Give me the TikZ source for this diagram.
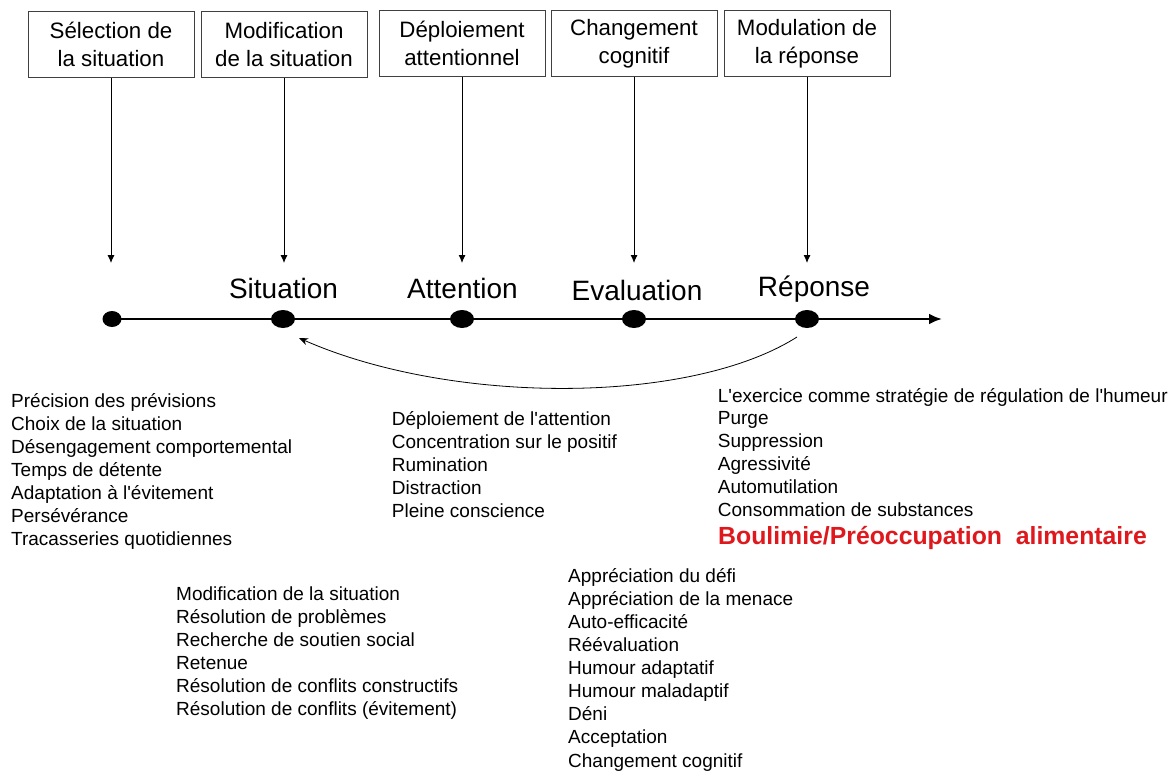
\documentclass[tikz,border=0pt]{standalone}
\usepackage{fontspec}
\setmainfont{Liberation Sans}[Ligatures=TeXOff]
\usetikzlibrary{calc,arrows.meta,shapes.geometric,positioning}
\definecolor{cadre}{RGB}{64,64,64}
\definecolor{alerte}{RGB}{222,24,28}
\newcommand*\fsz[2]{\fontsize{#1}{#2}\selectfont}

\begin{document}
\begin{tikzpicture}[x=1pt,y=-1pt,>=Latex,
  etape/.style={draw=cadre,line width=1pt,minimum width=166pt,minimum height=66pt,inner sep=0pt,align=center,font={\fsz{22.3}{27.7}}},
  point/.style={ellipse,fill=black,inner sep=0pt,minimum width=24pt,minimum height=18pt},
  phase/.style={anchor=base,inner sep=0pt,font={\fsz{28}{30}}},
  liste/.style={anchor=base west,align=left,inner sep=0pt,font={\fsz{19}{23.1}}},
  descente/.style={->,line width=0.9pt,>={Latex[length=8pt,width=7pt]}}]
\useasboundingbox (0,0) rectangle (1170,771);

% strategies (top boxes)
\node[etape] (sel) at (111,44.5) {Sélection de\\la situation};
\node[etape] (mod) at (284,44.5) {Modification\\de la situation};
\node[etape] (dep) at (462,43.7) {Déploiement\\attentionnel};
\node[etape] (chg) at (634,43.7) {Changement\\cognitif};
\node[etape] (rep) at (807,43.7) {Modulation de\\la réponse};

% timeline
\node[point,minimum width=19pt,minimum height=16pt] (d1) at (112,319) {};
\node[point] (d2) at (283,319) {};
\node[point] (d3) at (462,319) {};
\node[point] (d4) at (634,319) {};
\node[point] (d5) at (807,319) {};
\coordinate (fin) at (942,319);
\draw[line width=2.6pt,-{Latex[length=13pt,width=11pt]}] (d1.center) -- (fin);

\node[phase] (lsit) at (283.5,298) {Situation};
\node[phase] (latt) at (462.5,298) {Attention};
\node[phase] (leva) at (637,300) {Evaluation};
\node[phase] (lrep) at (814,296) {Réponse};

\draw[descente] (sel.south) -- ($(sel.south |- d1.center)+(0,-56)$);
\draw[descente] (mod.south) -- ($(mod.south |- d2.center)+(0,-56)$);
\draw[descente] (dep.south) -- ($(dep.south |- d3.center)+(0,-56)$);
\draw[descente] (chg.south) -- ($(chg.south |- d4.center)+(0,-56)$);
\draw[descente] (rep.south) -- ($(rep.south |- d5.center)+(0,-56)$);

% feedback
\draw[line width=0.8pt,->,>={Stealth[length=9pt,width=7pt]}] ($(d5.center)+(-10,18)$) .. controls ($(d5.center)+(-117,86)$) and ($(d2.center)+(168,86)$) .. ($(d2.center)+(16,19)$);

% lists (anchored on their last baseline)
\node[liste] (lsel) at (11,545.6) {Précision des prévisions\\Choix de la situation\\Désengagement comportemental\\Temps de détente\\Adaptation à l'évitement\\Persévérance\\Tracasseries quotidiennes};
\node[liste] (lmod) at (176,715.5) {Modification de la situation\\Résolution de problèmes\\Recherche de soutien social\\Retenue\\Résolution de conflits constructifs\\Résolution de conflits (évitement)};
\node[liste] (ldep) at (391.7,517.4) {Déploiement de l'attention\\Concentration sur le positif\\Rumination\\Distraction\\Pleine conscience};
\node[liste] (lchg) at (568,767) {Appréciation du défi\\Appréciation de la menace\\Auto-efficacité\\Réévaluation\\Humour adaptatif\\Humour maladaptif\\Déni\\Acceptation\\Changement cognitif};
\node[liste] (lrep1) at (717.7,402) {L'exercice comme stratégie de régulation de l'humeur};
\node[liste] (lrep2) at (717.7,516.4) {Purge\\Suppression\\Agressivité\\Automutilation\\Consommation de substances};
\node[liste,text=alerte,font={\fsz{24.8}{26}\bfseries}] (boul) at (718,544) {Boulimie/Préoccupation~ alimentaire};
\end{tikzpicture}
\end{document}
